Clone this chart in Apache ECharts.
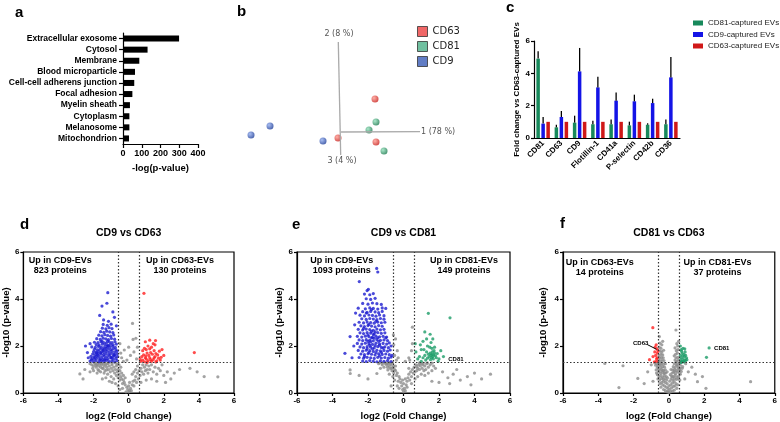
<!DOCTYPE html>
<html><head><meta charset="utf-8">
<script src="https://cdn.jsdelivr.net/npm/echarts@6/dist/echarts.min.js"></script>
<style>html,body{margin:0;padding:0;background:#fff}#c{width:780px;height:422px}</style>
</head><body><div id="c"></div>
<script>
// ---------- Panel a ----------
const goTerms = ['Extracellular exosome','Cytosol','Membrane','Blood microparticle','Cell-cell adherens junction','Focal adhesion','Myelin sheath','Cytoplasm','Melanosome','Mitochondrion'];
const goValues = [299,131,87,64,60,50,37,34,34,32];

// ---------- Panel b (projected PCA coordinates) ----------
const pcaCD63 = [[-3,-6],[34,33],[35,-10]];
const pcaCD81 = [[35,10],[28,2],[43,-19]];
const pcaCD9 = [[-90,-3],[-71,6],[-18,-9]];
const pcaAxisNames = ['1 (78 %)','2 (8 %)','3 (4 %)'];

// ---------- Panel c ----------
const markers = ['CD81','CD63','CD9','Flotillin-1','CD41a','P-selectin','CD42b','CD36'];
const cd81Fold = [4.91,0.66,0.95,0.85,0.85,0.78,0.82,0.85];
const cd81Top  = [5.36,0.82,1.38,1.07,1.15,1.01,0.91,1.15];
const cd9Fold  = [0.89,1.30,4.12,3.13,2.31,2.27,2.16,3.75];
const cd9Top   = [1.30,1.67,5.57,3.79,2.82,2.68,2.43,5.01];
const cd63Fold = [1,1,1,1,1,1,1,1];

// ---------- Panel d: CD9 vs CD63 (x = log2 FC, y = -log10 p) ----------
const dGray = [0,0.05,0.05,0.1,-0.05,0.15,0.1,0.2,-0.1,0.25,0.15,0.1,-0.15,0.05,0,0.3,0.2,0.35,-0.2,0.35,-0.25,0.45,0.25,0.5,-0.3,0.55,-0.35,0.4,0.3,0.3,0.05,0.45,
-0.4,0.6,-0.45,0.7,-0.5,0.55,-0.55,0.8,-0.6,0.65,-0.65,0.9,-0.7,0.75,-0.75,1.0,-0.8,0.85,-0.85,1.1,-0.9,0.95,-0.95,1.2,-1.0,1.05,-1.05,0.9,-1.1,1.15,-1.15,1.0,-1.2,1.25,-1.25,1.1,-1.3,1.2,-1.35,0.95,-1.4,1.15,-1.45,1.25,-1.5,1.05,-1.55,1.2,-1.6,1.1,-1.65,1.25,-1.7,1.15,-1.75,1.0,-1.8,1.2,-1.85,1.1,-1.9,1.25,-2.0,1.15,-2.1,1.2,-2.2,1.25,-0.6,1.0,-0.7,1.15,-0.5,0.95,-0.4,0.85,-0.3,0.75,-0.2,0.65,-0.55,1.2,-0.45,1.1,-1.0,0.7,-1.2,0.8,-1.4,0.85,-0.85,0.6,-1.6,0.9,-1.8,0.85,-2.0,0.95,-1.3,0.65,-0.95,0.45,-1.5,0.6,-2.2,0.9,-2.5,1.0,-2.78,0.81,-2.6,0.6,-1.1,0.5,-0.75,0.4,-0.6,0.3,-0.35,0.2,-0.5,0.15,
-1.95,1.28,-1.75,1.27,-1.55,1.28,-1.35,1.27,-1.15,1.28,-0.95,1.27,-0.75,1.28,-1.85,1.18,-1.45,1.05,-1.25,0.98,-0.65,1.22,-2.05,1.05,-1.7,0.95,
0.35,0.55,0.4,0.7,0.45,0.45,0.5,0.85,0.55,0.6,0.6,0.95,0.65,0.75,0.7,1.05,0.75,0.9,0.8,1.2,0.85,0.8,0.9,1.1,0.95,0.95,1.0,1.2,1.05,1.0,1.1,0.85,1.15,1.15,1.2,1.0,1.3,1.2,1.4,0.9,1.5,1.1,1.6,0.8,1.7,1.05,1.8,0.95,1.9,1.2,2.0,0.75,2.2,0.9,2.4,0.6,2.6,0.85,2.9,1.0,3.49,1.05,3.9,0.9,4.3,0.7,5.08,0.69,1.3,0.6,1.0,0.55,0.7,0.45,1.6,0.5,2.1,0.45,0.5,1.15,0.4,1.0,0.3,0.9,0.2,0.8,
0.22,2.96,0.41,2.33,0.25,2.28,-0.25,1.83,0.1,1.6,-0.4,1.5,0.45,1.45,-0.1,1.4,0.3,1.75,-0.5,2.1,0.5,1.95,-0.3,1.35,0.0,1.95,-0.45,1.7];
const dBlue = [-2.2,1.36,-2.02,1.34,-1.86,1.38,-1.7,1.33,-1.55,1.37,-1.4,1.35,-1.25,1.39,-1.1,1.34,-0.95,1.37,-0.8,1.33,-0.66,1.38,
-2.1,1.46,-1.95,1.44,-1.8,1.48,-1.62,1.45,-1.48,1.43,-1.33,1.47,-1.18,1.45,-1.02,1.49,-0.88,1.44,-0.72,1.47,
-2.15,1.56,-1.98,1.54,-1.83,1.58,-1.68,1.55,-1.52,1.53,-1.38,1.57,-1.22,1.55,-1.08,1.59,-0.92,1.54,-0.78,1.57,-0.63,1.55,
-2.05,1.66,-1.9,1.64,-1.74,1.68,-1.58,1.65,-1.43,1.63,-1.28,1.67,-1.12,1.65,-0.97,1.69,-0.82,1.64,-0.68,1.66,
-2.0,1.76,-1.85,1.74,-1.7,1.78,-1.55,1.75,-1.4,1.73,-1.25,1.77,-1.1,1.75,-0.95,1.79,-0.8,1.74,-0.66,1.77,
-1.95,1.86,-1.78,1.84,-1.62,1.88,-1.47,1.85,-1.32,1.83,-1.17,1.87,-1.02,1.85,-0.87,1.89,-0.72,1.84,
-2.1,1.96,-1.9,1.94,-1.72,1.98,-1.56,1.95,-1.4,1.93,-1.24,1.97,-1.08,1.95,-0.92,1.99,-0.76,1.94,
-1.85,2.06,-1.68,2.04,-1.5,2.08,-1.35,2.05,-1.2,2.03,-1.04,2.07,-0.88,2.05,-0.7,2.08,
-1.95,2.16,-1.75,2.14,-1.58,2.18,-1.42,2.15,-1.27,2.13,-1.1,2.17,-0.95,2.15,-0.78,2.18,
-1.82,2.31,-1.62,2.28,-1.45,2.33,-1.3,2.3,-1.15,2.27,-0.98,2.32,-0.8,2.29,
-1.7,2.46,-1.52,2.43,-1.36,2.48,-1.2,2.45,-1.03,2.42,-0.85,2.47,
-1.6,2.61,-1.42,2.58,-1.25,2.63,-1.08,2.6,-0.9,2.57,
-1.5,2.76,-1.3,2.73,-1.12,2.78,-0.95,2.74,
-1.45,2.92,-1.22,2.88,-1.0,2.93,-0.7,2.86,
-1.43,3.11,-1.15,3.05,-0.81,3.22,
-2.12,1.41,-1.92,1.51,-1.76,1.61,-1.6,1.71,-1.46,1.81,-1.3,1.91,-1.15,2.01,-1.0,1.51,-1.36,1.41,-1.65,1.41,-1.82,1.71,-1.52,2.21,-1.2,2.21,-0.85,1.61,
-1.19,4.27,-1.24,3.82,-1.52,3.7,-0.9,3.45,-2.46,2.0,-2.3,1.5,-2.35,1.72,-1.65,3.3,-2.2,2.1];
const dRed = [0.7,1.35,0.8,1.4,0.9,1.33,1.0,1.45,1.1,1.38,1.2,1.5,1.3,1.35,1.4,1.42,1.5,1.55,1.6,1.37,1.7,1.48,1.8,1.4,0.75,1.55,0.85,1.62,0.95,1.5,1.05,1.7,1.15,1.6,1.25,1.72,1.35,1.65,1.45,1.8,1.55,1.68,1.65,1.62,1.75,1.78,1.9,1.85,0.8,1.8,0.9,1.9,1.0,1.85,1.1,2.0,1.2,1.88,1.3,1.95,1.5,2.05,1.4,2.1,0.95,2.18,1.53,2.23,1.2,2.25,2.0,1.6,1.85,1.52,0.65,1.45,1.05,1.3,1.55,1.32,0.87,4.24,3.74,1.72,1.25,1.42,0.98,1.58,1.45,1.5];

// ---------- Panel e: CD9 vs CD81 ----------
const eGray = [0,0.05,-0.05,0.15,0.05,0.2,-0.1,0.3,0.1,0.1,0.15,0.35,-0.15,0.45,0.2,0.5,-0.2,0.6,0.0,0.4,-0.25,0.7,0.25,0.65,-0.3,0.5,0.3,0.8,-0.35,0.85,0.35,0.55,-0.4,0.75,0.4,0.9,-0.45,0.95,0.45,0.7,-0.5,1.0,0.5,1.0,-0.55,0.85,0.55,0.85,-0.6,1.1,0.6,1.1,-0.65,0.95,0.65,0.9,-0.7,1.2,0.7,1.2,-0.75,1.05,0.75,0.95,-0.8,1.15,0.8,1.05,-0.85,1.25,0.85,1.2,-0.9,1.1,0.9,1.0,-0.95,1.2,0.95,1.15,-1.0,1.25,1.0,1.25,1.05,1.05,1.1,1.2,1.15,0.95,1.2,1.15,1.25,1.0,1.3,1.25,1.4,1.1,1.5,1.2,1.6,0.95,1.7,1.15,1.8,1.05,-1.1,1.1,-1.2,1.2,-1.3,1.05,-1.4,1.25,-0.35,0.3,-0.5,0.55,-0.6,0.7,0.2,0.25,0.45,0.4,0.65,0.6,0.8,0.7,1.0,0.8,1.2,0.75,1.4,0.85,-0.8,0.8,-0.25,0.2,0.1,0.6,-0.05,0.55,0.3,1.05,-0.45,1.15,
-0.62,1.28,-0.72,1.27,-0.82,1.29,-0.92,1.27,-1.05,1.28,-1.2,1.27,-1.35,1.29,-0.55,1.15,-0.68,1.05,-0.88,0.98,0.9,1.28,1.1,1.27,1.35,1.28,1.6,1.27,0.75,1.12,
-0.4,1.4,-0.5,1.6,-0.35,1.8,-0.55,2.05,-0.45,2.3,0.3,1.5,0.45,1.8,0.5,2.1,0.35,1.4,-0.3,1.5,0.1,1.35,-0.57,2.47,0.5,2.8,
-3.01,0.98,-3.0,0.83,-1.5,0.83,-2.0,0.6,-2.5,0.75,2.2,0.9,2.5,0.65,2.8,0.8,3.2,0.55,3.6,0.7,4.0,0.85,4.4,0.6,4.9,0.8,2.0,0.45,3.0,1.0,2.6,0.4,3.8,0.35,-0.7,0.3,1.6,0.5];
const eBlue = [-2.3,1.36,-2.1,1.34,-1.9,1.38,-1.7,1.35,-1.5,1.33,-1.3,1.37,-1.1,1.35,-0.9,1.38,-0.7,1.34,
-2.5,1.51,-2.25,1.48,-2.05,1.52,-1.85,1.5,-1.65,1.47,-1.45,1.52,-1.25,1.49,-1.05,1.51,-0.85,1.48,-0.7,1.53,
-2.4,1.66,-2.2,1.63,-2.0,1.67,-1.8,1.65,-1.6,1.62,-1.4,1.67,-1.2,1.64,-1.0,1.66,-0.8,1.63,
-2.55,1.81,-2.3,1.78,-2.1,1.82,-1.9,1.8,-1.7,1.77,-1.5,1.82,-1.3,1.79,-1.1,1.81,-0.9,1.78,-0.75,1.83,
-2.45,1.96,-2.25,1.93,-2.05,1.97,-1.85,1.95,-1.65,1.92,-1.45,1.97,-1.25,1.94,-1.05,1.96,-0.85,1.93,
-2.6,2.11,-2.35,2.08,-2.15,2.12,-1.95,2.1,-1.75,2.07,-1.55,2.12,-1.35,2.09,-1.15,2.11,-0.95,2.08,-0.8,2.13,
-2.5,2.26,-2.3,2.23,-2.1,2.27,-1.9,2.25,-1.7,2.22,-1.5,2.27,-1.3,2.24,-1.1,2.26,-0.9,2.23,
-2.6,2.41,-2.35,2.38,-2.15,2.42,-1.95,2.4,-1.75,2.37,-1.55,2.42,-1.35,2.39,-1.15,2.41,-0.95,2.38,
-2.45,2.56,-2.25,2.53,-2.05,2.57,-1.85,2.55,-1.65,2.52,-1.45,2.57,-1.25,2.54,-1.05,2.56,
-2.55,2.71,-2.3,2.68,-2.1,2.72,-1.9,2.7,-1.7,2.67,-1.5,2.72,-1.3,2.69,-1.1,2.71,
-2.4,2.86,-2.2,2.83,-2.0,2.87,-1.8,2.85,-1.6,2.82,-1.4,2.87,-1.2,2.84,
-2.5,3.01,-2.25,2.98,-2.05,3.02,-1.85,3.0,-1.65,2.97,-1.45,3.02,-1.25,2.99,-1.05,3.01,
-2.35,3.16,-2.1,3.13,-1.9,3.17,-1.7,3.15,-1.5,3.12,-1.3,3.17,-1.1,3.14,
-2.45,3.31,-2.2,3.28,-1.95,3.32,-1.75,3.3,-1.55,3.27,-1.35,3.32,-1.1,3.29,
-2.3,3.46,-2.05,3.43,-1.85,3.47,-1.6,3.45,-1.4,3.42,-1.2,3.47,
-2.55,3.61,-2.15,3.58,-1.9,3.62,-1.7,3.6,-1.45,3.57,-1.2,3.62,
-2.3,3.81,-2.0,3.78,-1.75,3.83,-1.5,3.8,-1.25,3.77,
-2.1,4.01,-1.85,3.98,-1.6,4.03,-2.2,4.21,-1.9,4.18,-1.7,4.23,-1.98,4.41,-2.05,4.36,
-1.95,1.72,-1.75,1.88,-1.6,2.02,-1.85,2.18,-1.65,2.33,-2.0,2.47,-1.8,2.62,-1.55,1.72,-2.05,1.88,-1.4,2.2,-1.7,2.48,-1.9,2.03,-1.45,2.35,-1.25,1.73,-1.15,1.92,-1.35,2.03,
-2.2,1.55,-2.0,2.2,-1.8,2.35,-1.6,2.6,-2.25,2.75,-1.95,2.92,-1.55,3.05,-2.1,3.4,-1.8,3.55,-1.35,1.58,-1.0,2.35,
-1.51,5.3,-1.45,5.15,-2.49,4.74,-3.3,1.69,-3.01,2.4,-2.8,2.0,-2.75,2.9,-2.9,1.5,-0.65,1.6,-0.7,2.0,-2.7,3.4,-1.0,3.6];
const eGreen = [1.55,1.6,1.6,1.65,1.65,1.55,1.7,1.62,1.5,1.7,1.58,1.5,1.75,1.7,1.45,1.55,1.62,1.75,1.68,1.45,1.8,1.58,1.4,1.65,1.52,1.42,1.72,1.8,1.35,1.48,1.85,1.5,1.3,1.75,1.9,1.68,1.25,1.4,1.6,1.9,1.48,1.95,1.75,1.95,1.2,1.6,2.0,1.45,1.1,1.5,1.0,1.35,0.9,1.55,0.8,1.45,1.15,1.85,1.35,2.0,1.55,2.15,1.3,2.3,1.65,2.3,1.1,2.2,0.95,2.05,1.5,2.5,1.2,2.6,0.7,1.75,0.66,2.1,1.4,3.39,2.62,3.2,2.1,1.8,1.95,1.35,1.0,1.85,2.25,1.55];

// ---------- Panel f: CD81 vs CD63 ----------
const fGray = [0,0.02,0.1,0.05,-0.1,0.05,0.2,0.08,-0.2,0.1,0.3,0.12,-0.3,0.15,0.05,0.15,-0.05,0.2,0.15,0.22,-0.15,0.25,0.25,0.28,-0.25,0.3,0.35,0.3,-0.35,0.35,0.45,0.2,-0.45,0.25,0.0,0.3,0.1,0.35,-0.1,0.4,0.2,0.42,-0.2,0.45,0.3,0.48,-0.3,0.5,0.4,0.4,-0.4,0.45,0.5,0.35,-0.5,0.4,0.05,0.5,-0.05,0.08,
-0.12,0.55,-0.22,0.6,-0.32,0.58,-0.42,0.62,-0.52,0.55,-0.62,0.6,0.12,0.6,0.22,0.55,0.32,0.62,0.42,0.58,0.52,0.6,0.62,0.55,-0.15,0.7,-0.25,0.72,-0.35,0.68,-0.45,0.75,-0.55,0.7,-0.65,0.78,0.15,0.72,0.25,0.7,0.35,0.75,0.45,0.68,0.55,0.72,0.65,0.8,-0.18,0.85,-0.28,0.82,-0.38,0.88,-0.48,0.85,-0.58,0.9,-0.7,0.85,0.18,0.85,0.28,0.88,0.38,0.82,0.48,0.9,0.58,0.85,0.7,0.92,-0.2,0.98,-0.3,0.95,-0.4,1.0,-0.5,0.97,-0.6,1.02,-0.72,0.98,0.22,0.98,0.32,1.0,0.42,0.95,0.52,1.02,0.62,0.98,0.75,1.05,
-0.25,1.1,-0.35,1.12,-0.45,1.08,-0.55,1.15,-0.65,1.1,-0.75,1.18,0.25,1.12,0.35,1.08,0.45,1.15,0.55,1.1,0.65,1.18,0.78,1.12,-0.2,1.25,-0.3,1.22,-0.4,1.28,-0.5,1.25,-0.6,1.3,-0.7,1.25,-0.8,1.28,0.3,1.25,0.4,1.3,0.5,1.22,0.6,1.28,0.7,1.3,-0.28,1.38,-0.38,1.4,-0.48,1.36,-0.58,1.42,0.35,1.4,0.45,1.36,0.55,1.42,-0.32,1.5,-0.42,1.52,-0.52,1.48,0.4,1.5,0.5,1.52,0.3,1.58,
-0.35,1.62,-0.45,1.65,-0.55,1.6,0.38,1.65,0.48,1.7,-0.4,1.75,-0.5,1.78,-0.3,1.82,0.42,1.8,0.52,1.85,-0.45,1.9,-0.55,1.95,0.35,1.92,0.5,2.0,-0.4,2.05,-0.5,2.12,0.45,2.1,-0.54,2.4,0.4,2.68,0.55,2.2,-0.35,2.2,
-0.08,0.65,0.08,0.78,-0.1,0.9,0.12,1.0,-0.6,1.18,-0.45,1.2,0.42,1.2,0.62,1.05,-0.35,0.95,0.3,0.92,-0.25,0.85,0.2,0.68,
-3.63,1.26,-2.6,1.16,-1.76,0.62,-2.83,0.23,4.63,0.48,1.62,0.48,2.1,0.2,-1.2,0.9,-1.0,1.2,1.1,0.9,1.3,1.1,0.9,0.6,-0.9,0.5,1.5,0.8,-1.4,0.4,0.95,1.25,1.9,0.7];
const fRed = [-0.91,2.78,-0.72,2.05,-0.78,1.95,-0.68,1.88,-0.8,1.75,-0.65,1.7,-0.75,1.6,-1.1,1.42,-0.82,1.33,-0.7,1.35,-0.66,1.5,-0.9,1.55,-0.62,1.8,-0.7,1.45];
const fGreen = [0.65,2.0,0.7,1.85,0.8,1.9,0.9,1.88,0.75,1.7,0.85,1.65,0.65,1.6,0.95,1.6,0.7,1.5,0.8,1.45,0.9,1.4,0.75,1.35,0.85,1.32,0.95,1.38,0.66,1.4,1.0,1.5,0.88,1.55,0.78,1.58,0.72,1.78,0.92,1.75,0.82,1.35,0.7,1.3,1.02,1.42,2.28,1.92,2.13,1.52];

const volcTitles = ['CD9 vs CD63','CD9 vs CD81','CD81 vs CD63'];
const volcNotes = [
  [['Up in CD9-EVs\n823 proteins',-3.9,5.42],['Up in CD63-EVs\n130 proteins',2.93,5.42]],
  [['Up in CD9-EVs\n1093 proteins',-3.48,5.42],['Up in CD81-EVs\n149 proteins',3.41,5.42]],
  [['Up in CD63-EVs\n14 proteins',-3.92,5.36],['Up in CD81-EVs\n37 proteins',2.75,5.36]]
];
const fcCut = 0.58, pCut = 1.3;

// ---------- build ----------
const F = '"Liberation Sans", Arial, sans-serif';
const pairs = a => { const r = []; for (let i = 0; i < a.length; i += 2) r.push([a[i], a[i+1]]); return r; };
const rg = (l, d) => new echarts.graphic.RadialGradient(0.35, 0.35, 0.7, [{offset:0,color:l},{offset:1,color:d}]);
const chart = echarts.init(document.getElementById('c'), null, {renderer:'canvas'});

const bold = (s) => ({fontFamily:F, fontWeight:'bold', fontSize:s, color:'#000'});
const blackLine = {show:true, onZero:false, lineStyle:{color:'#000', width:1.2}};

const grids = [
  {left:123, top:33, width:75, height:111},
  {left:534, top:41, width:146, height:97},
  {left:241, top:32, width:200, height:200},
  {left:21, top:252, width:213, height:141, show:true, borderColor:'#000', borderWidth:1.2, backgroundColor:'transparent'},
  {left:297, top:252, width:213, height:141, show:true, borderColor:'#000', borderWidth:1.2, backgroundColor:'transparent'},
  {left:563, top:252, width:213, height:141, show:true, borderColor:'#000', borderWidth:1.2, backgroundColor:'transparent'}
];

const xAxes = [
  {gridIndex:0, type:'value', min:0, max:400, interval:100, axisLine:blackLine, axisTick:{show:true,length:4,lineStyle:{color:'#000',width:1.2}}, splitLine:{show:false}, axisLabel:{...bold(9), margin:5}, name:'-log(p-value)', nameLocation:'middle', nameGap:19, nameTextStyle:bold(9.5)},
  {gridIndex:1, type:'category', data:markers, axisLine:blackLine, axisTick:{show:false}, axisLabel:{...bold(8), rotate:45, interval:0, margin:4}},
  {gridIndex:2, type:'value', min:-100, max:100, show:false}
];
const yAxes = [
  {gridIndex:0, type:'category', data:goTerms, inverse:true, axisLine:blackLine, axisTick:{show:true,alignWithLabel:true,length:4,lineStyle:{color:'#000',width:1.2}}, axisLabel:{...bold(8.5), margin:6, interval:0}},
  {gridIndex:1, type:'value', min:0, max:6, interval:2, axisLine:blackLine, axisTick:{show:true,length:3,lineStyle:{color:'#000',width:1.2}}, splitLine:{show:false}, axisLabel:{...bold(8), margin:4}, name:'Fold change vs CD63-captured EVs', nameLocation:'middle', nameGap:13, nameTextStyle:bold(8)},
  {gridIndex:2, type:'value', min:-100, max:100, show:false}
];
const yNameGaps = [11, 10, 15];
for (let k = 0; k < 3; k++) {
  xAxes.push({gridIndex:3+k, type:'value', min:-6, max:6, interval:2, axisLine:blackLine, axisTick:{show:true,length:3,lineStyle:{color:'#000',width:1.2}}, splitLine:{show:false}, axisLabel:{...bold(8), margin:4}, name:'log2 (Fold Change)', nameLocation:'middle', nameGap:18, nameTextStyle:bold(9.5)});
  yAxes.push({gridIndex:3+k, type:'value', min:0, max:6, interval:2, axisLine:blackLine, axisTick:{show:true,length:3,lineStyle:{color:'#000',width:1.2}}, splitLine:{show:false}, axisLabel:{...bold(8), margin:4}, name:'-log10 (p-value)', nameLocation:'middle', nameGap:yNameGaps[k], nameTextStyle:bold(9.5)});
}

const cGreen = '#17895b', cBlue = '#1414e6', cRed = '#d01818';
function errBars(tops, vals, off) {
  return {type:'custom', xAxisIndex:1, yAxisIndex:1, silent:true, z:5,
    data: vals.map((v,i) => [i, v, tops[i]]),
    renderItem: (params, api) => {
      const a = api.coord([api.value(0), api.value(1)]);
      const b = api.coord([api.value(0), api.value(2)]);
      const x = a[0] + off;
      return {type:'line', shape:{x1:x, y1:a[1], x2:x, y2:b[1]}, style:{stroke:'#000', lineWidth:1.3}};
    }};
}

const series = [
  {type:'bar', xAxisIndex:0, yAxisIndex:0, data:goValues, barWidth:6, itemStyle:{color:'#000'}, silent:true},
  {type:'bar', name:'CD81-captured EVs', xAxisIndex:1, yAxisIndex:1, data:cd81Fold, barWidth:3.5, barGap:'43%', itemStyle:{color:cGreen}},
  {type:'bar', name:'CD9-captured EVs', xAxisIndex:1, yAxisIndex:1, data:cd9Fold, barWidth:3.5, barGap:'43%', itemStyle:{color:cBlue}},
  {type:'bar', name:'CD63-captured EVs', xAxisIndex:1, yAxisIndex:1, data:cd63Fold, barWidth:3.5, barGap:'43%', itemStyle:{color:cRed}},
  errBars(cd81Top, cd81Fold, -5),
  errBars(cd9Top, cd9Fold, 0),
  {type:'scatter', name:'CD63', xAxisIndex:2, yAxisIndex:2, data:pcaCD63, symbolSize:7, itemStyle:{color:rg('#ff9c92','#c8201c')}, z:4,
    markLine:{silent:true, symbol:'none', label:{show:false}, lineStyle:{type:'solid', color:'#aaaaaa', width:1.3},
      data:[[{coord:[-2.7,90]},{coord:[-0.3,-23]}],[{coord:[0,0]},{coord:[79,0.4]}]]}},
  {type:'scatter', name:'CD81', xAxisIndex:2, yAxisIndex:2, data:pcaCD81, symbolSize:7, itemStyle:{color:rg('#96e2bd','#1c7a4f')}, z:4},
  {type:'scatter', name:'CD9', xAxisIndex:2, yAxisIndex:2, data:pcaCD9, symbolSize:7, itemStyle:{color:rg('#93aef0','#1e3d98')}, z:4}
];

const thr = {silent:true, symbol:'none', label:{show:false}, lineStyle:{type:[1.5,2], color:'#333', width:1.2},
  data:[{xAxis:-fcCut},{xAxis:fcCut},{yAxis:pCut}]};
const gray = '#8c8c8c', vBlue = '#1c1ccf', vRed = '#ff1f1f', vGreen = '#1c9c68';
const volcSets = [
  [[dGray,gray],[dBlue,vBlue],[dRed,vRed]],
  [[eGray,gray],[eBlue,vBlue],[eGreen,vGreen]],
  [[fGray,gray],[fRed,vRed],[fGreen,vGreen]]
];
volcSets.forEach((sets, k) => {
  sets.forEach(([arr, col], j) => {
    const s = {type:'scatter', xAxisIndex:3+k, yAxisIndex:3+k, data:pairs(arr), symbolSize:3.2, itemStyle:{color:col}, silent:true, z:2+j, progressive:0};
    if (j === 0) s.markLine = thr;
    if (k === 2 && j === 1) s.markLine = {silent:true, symbol:['none','arrow'], symbolSize:[0,5], label:{show:false}, lineStyle:{type:'solid', color:'#000', width:1},
      data:[[{coord:[-1.22,2.06]},{coord:[-0.7,1.86]}]]};
    series.push(s);
  });
});

chart.setOption({
  animation:false,
  grid:grids, xAxis:xAxes, yAxis:yAxes, series:series,
  legend:[
    {left:417, top:26, padding:0, orient:'vertical', icon:'rect', itemWidth:10, itemHeight:10, itemGap:4,
      textStyle:{fontFamily:'"DejaVu Sans", sans-serif', fontSize:10, color:'#222'}, selectedMode:false,
      data:[{name:'CD63', itemStyle:{color:'#ec4141', borderColor:'#333', borderWidth:1}},
            {name:'CD81', itemStyle:{color:'#4cb088', borderColor:'#333', borderWidth:1}},
            {name:'CD9', itemStyle:{color:'#3a5cb6', borderColor:'#333', borderWidth:1}}]},
    {left:693, top:19, padding:0, orient:'vertical', icon:'rect', itemWidth:10, itemHeight:5, itemGap:3.5, selectedMode:false,
      textStyle:{fontFamily:F, fontSize:8, color:'#222'},
      data:['CD81-captured EVs','CD9-captured EVs','CD63-captured EVs']}
  ]
});

// ---------- text annotations ----------
const g = [];
const letter = (t, x, y) => g.push({type:'text', left:x, top:y, style:{text:t, font:'bold 15px ' + F, fill:'#000'}});
letter('a', 15, 5); letter('b', 237, 4); letter('c', 506, 0); letter('d', 20, 217); letter('e', 292, 217); letter('f', 560, 216);

const toPx = (ai, x, y) => chart.convertToPixel({xAxisIndex:ai, yAxisIndex:ai}, [x, y]);
const txt = (p, t, font, fill, align, vAlign) => g.push({type:'text', x:p[0], y:p[1], style:{text:t, font:font, fill:fill, align:align, verticalAlign:vAlign, lineHeight:10}});

txt(toPx(2, 80, 0), pcaAxisNames[0], '8px "DejaVu Sans", sans-serif', '#555', 'left', 'middle');
txt(toPx(2, -2, 98), pcaAxisNames[1], '8px "DejaVu Sans", sans-serif', '#555', 'center', 'middle');
txt(toPx(2, 1, -29), pcaAxisNames[2], '8px "DejaVu Sans", sans-serif', '#555', 'center', 'middle');

volcTitles.forEach((t, k) => {
  const p = toPx(3+k, 0, 6);
  txt([p[0], 233], t, 'bold 10.5px ' + F, '#000', 'center', 'middle');
  volcNotes[k].forEach(n => txt(toPx(3+k, n[1], n[2]), n[0], 'bold 9px ' + F, '#000', 'center', 'middle'));
});
txt(toPx(4, 2.52, 1.43), 'CD81', 'bold 6px ' + F, '#000', 'left', 'middle');
txt(toPx(5, 2.56, 1.9), 'CD81', 'bold 6px ' + F, '#000', 'left', 'middle');
txt(toPx(5, -1.6, 2.11), 'CD63', 'bold 6px ' + F, '#000', 'center', 'middle');

chart.setOption({graphic:g});
</script></body></html>
